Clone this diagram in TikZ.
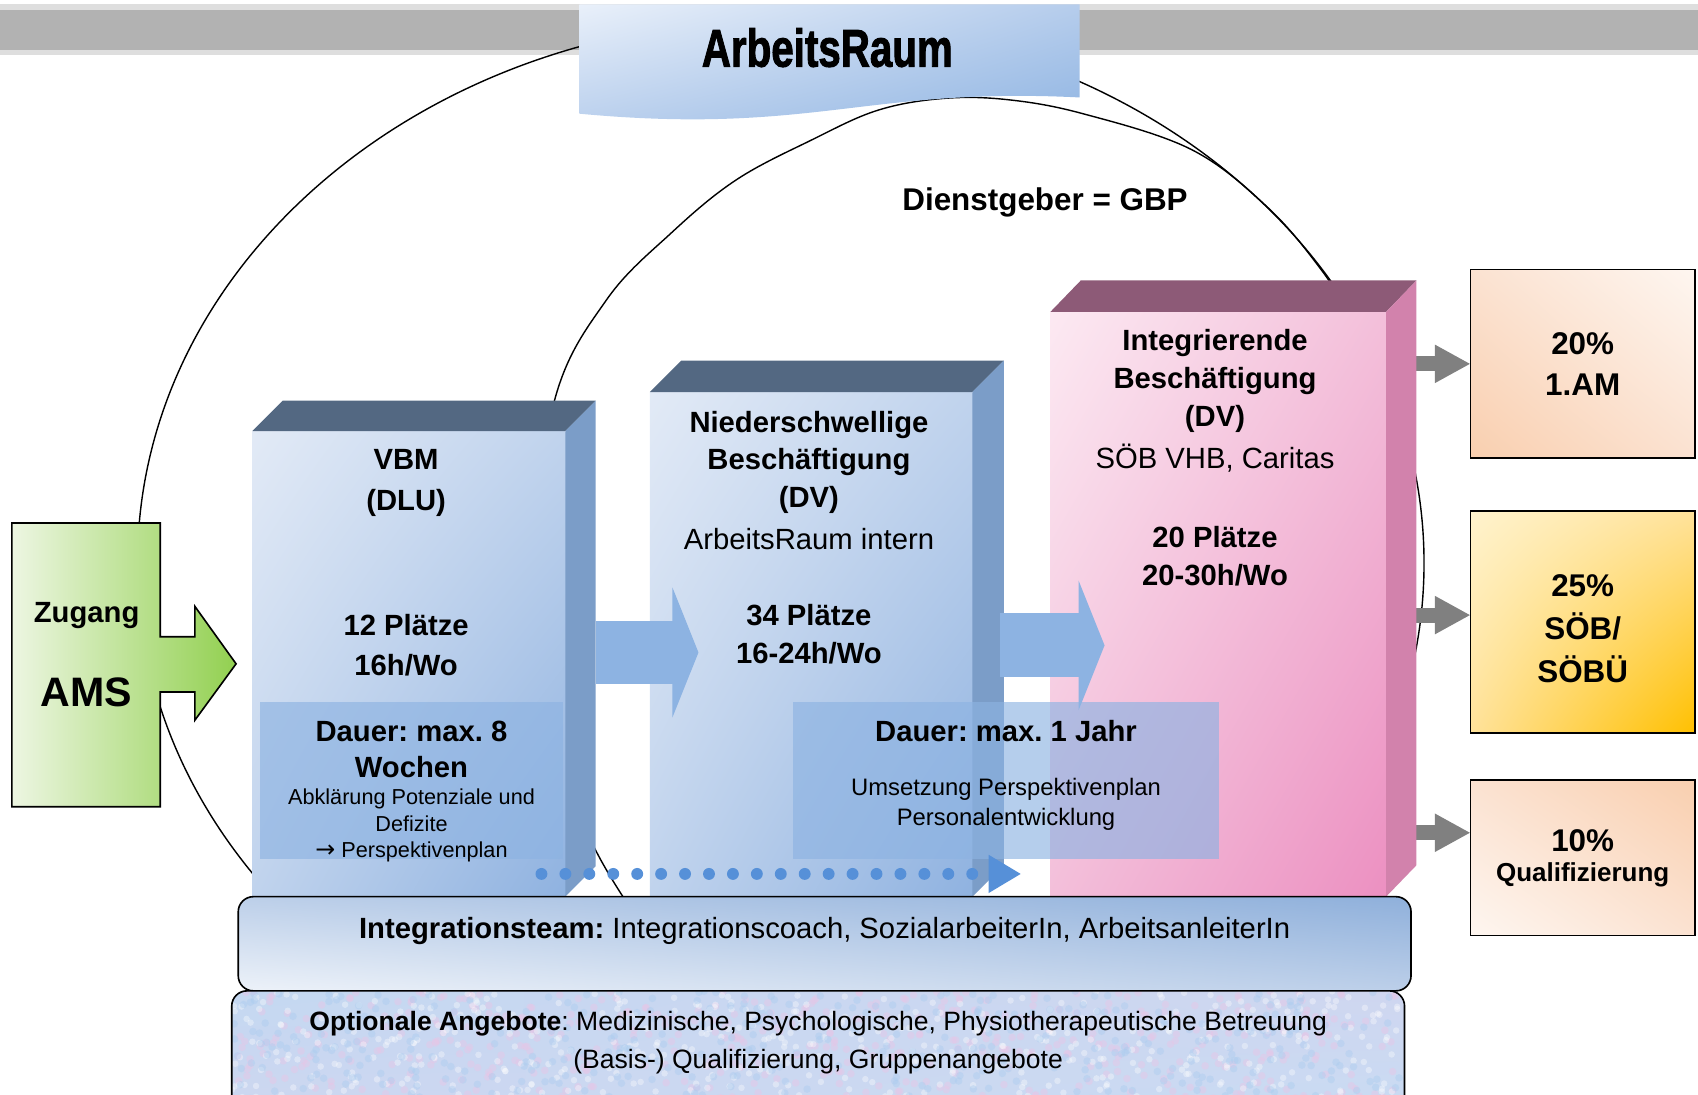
\documentclass[tikz,border=0pt]{standalone}
\usepackage{fontspec}
\setmainfont{Liberation Sans}
\newfontfamily\titlefont{Liberation Sans}[BoldFeatures={FakeBold=2}]
\newfontfamily\symfont{DejaVu Sans}
\usetikzlibrary{arrows.meta,positioning,shadings}

\definecolor{barGray}{HTML}{B2B2B2}
\definecolor{barLight}{HTML}{DEDEDE}
\definecolor{bannerLight}{HTML}{E9F0FA}
\definecolor{bannerMid}{HTML}{B6CDEC}
\definecolor{bannerDark}{HTML}{8DB3E2}
\definecolor{blueLight}{HTML}{E2EAF6}
\definecolor{blueMid}{HTML}{C0D3ED}
\definecolor{blueDark}{HTML}{8FB2E0}
\definecolor{blueTop}{HTML}{536882}
\definecolor{blueSide}{HTML}{7B9DC8}
\definecolor{pinkLight}{HTML}{FCE9F2}
\definecolor{pinkMid}{HTML}{F3BFDA}
\definecolor{pinkDark}{HTML}{EC90C1}
\definecolor{pinkTop}{HTML}{8D5A77}
\definecolor{pinkSide}{HTML}{D282AC}
\definecolor{arrowBlue}{HTML}{8DB3E2}
\definecolor{dotBlue}{HTML}{5690D8}
\definecolor{greenLight}{HTML}{EDF6E2}
\definecolor{greenDark}{HTML}{92D050}
\definecolor{teamLight}{HTML}{EDF2F9}
\definecolor{teamMid}{HTML}{BCCFE9}
\definecolor{teamDark}{HTML}{8FB0DB}
\definecolor{optA}{HTML}{C4D8F1}
\definecolor{optB}{HTML}{CFD6F0}
\definecolor{optC}{HTML}{C8DCF3}
\definecolor{speckPink}{HTML}{E8C6E6}
\definecolor{speckBlue}{HTML}{A9CBEF}
\definecolor{peachLight}{HTML}{FEF6F0}
\definecolor{peachMid}{HTML}{FBE2D1}
\definecolor{peachDark}{HTML}{F9CFAF}
\definecolor{yellowLight}{HTML}{FFF3CD}
\definecolor{yellowMid}{HTML}{FFE29A}
\definecolor{yellowDark}{HTML}{FFC000}
\definecolor{grayArrow}{HTML}{808080}

\begin{document}
\frenchspacing
\begin{tikzpicture}
  [x=1pt, y=-1pt,
  boxface/.style={inner sep=0pt, outer sep=0pt},
  bluefront/.style={boxface, upper left=blueLight, upper right=blueMid,
    lower left=blueMid, lower right=blueDark},
  pinkfront/.style={boxface, upper left=pinkLight, upper right=pinkMid,
    lower left=pinkMid, lower right=pinkDark},
  durbox/.style={boxface, fill=arrowBlue, fill opacity=0.65},
  outbox/.style={boxface, draw=black, line width=1.5pt, minimum width=207},
  outtxt/.style={font=\bfseries\fontsize{29}{#1}\selectfont, align=center, inner sep=0pt},
  outtxt/.default=38,
  bigarrow/.style={draw=arrowBlue, line width=59pt, -{Triangle[length=24pt, width=119pt]}},
  grayarrow/.style={draw=grayArrow, line width=14pt, -{Triangle[length=33pt, width=33pt]}},
  dotarrow/.style={draw=dotBlue, line width=11pt, line cap=round,
    dash pattern=on 0pt off 22.1pt, -{Triangle[length=30pt, width=33pt]}},
  bigcurve/.style={draw=black, line width=1.3pt},
  btxt/.style={font=\bfseries\fontsize{27}{#1}\selectfont, align=center, inner sep=0pt},
  btxt/.default=35,
  rtxt/.style={font=\fontsize{27}{#1}\selectfont, align=center, inner sep=0pt},
  rtxt/.default=35]

  \clip (0,0) rectangle (1568,1011);

  \fill[barLight] (0,4) rectangle (1568,51);
  \fill[barGray] (0,9) rectangle (1568,46);

  \draw[bigcurve] (721,520) ellipse [x radius=594pt, y radius=502pt];
  \draw[bigcurve] plot[smooth, tension=0.6] coordinates {(590,850) (550,785) (505,680)
    (490,540) (512,370) (560,277) (620,215) (680,166) (750,129) (810,102) (870,91)
    (930,92) (1000,105) (1100,138) (1170,191) (1220,249) (1262,313)};

  \shade[upper left=bannerLight, upper right=bannerMid, lower left=bannerMid, lower right=bannerDark]
    (535,4) -- (997,4) -- (997,90) .. controls (800,80) and (750,125) .. (535,105) -- cycle;
  \node[font=\titlefont\bfseries\fontsize{49}{49}\selectfont, inner sep=0pt] (title) at (764,44)
    {\scalebox{0.76}[1]{ArbeitsRaum}};

  \node[font=\bfseries\fontsize{29}{35}\selectfont, inner sep=0pt] (employer) at (965,187) {Dienstgeber = GBP};

  % outcome boxes
  \node[outbox, minimum height=174, upper left=peachMid, upper right=peachLight,
    lower left=peachDark, lower right=peachMid] (am) at (1461.5,336) {};
  \node[outbox, minimum height=205, upper left=yellowLight, upper right=yellowMid,
    lower left=yellowMid, lower right=yellowDark] (soeb) at (1461.5,574.5) {};
  \node[outbox, minimum height=144, upper left=peachMid, upper right=peachDark,
    lower left=peachLight, lower right=peachMid] (quali) at (1461.5,792) {};
  \node[outtxt] (am-text) at (am.center) {20\%\\1.AM};
  \node[outtxt=40] (soeb-text) at ([yshift=-6pt]soeb.center) {25\%\\SÖB/\\SÖBÜ};
  \node[outtxt] (quali-rate) at ([yshift=16pt]quali.center) {10\%};
  \node[font=\bfseries\fontsize{24}{30}\selectfont, inner sep=0pt] (quali-text)
    at ([yshift=-16pt]quali.center) {Qualifizierung};

  \draw[grayarrow] ([xshift=-98pt]am.west) -- (am.west);
  \draw[grayarrow] ([xshift=-98pt, yshift=6.5pt]soeb.west) -- ([yshift=6.5pt]soeb.west);
  \draw[grayarrow] ([xshift=-98pt, yshift=23pt]quali.west) -- ([yshift=23pt]quali.west);

  \node[pinkfront, minimum width=310, minimum height=540] (integ) at (1125,558) {};
  \fill[pinkTop] (integ.north west) -- ++(28,-29) -- ++(310,0) -- (integ.north east) -- cycle;
  \fill[pinkSide] (integ.north east) -- ++(28,-29) -- ++(0,540) -- (integ.south east) -- cycle;

  \node[bluefront, minimum width=289, minimum height=430] (vbm) at (377.5,613) {};
  \fill[blueTop] (vbm.north west) -- ++(28,-28) -- ++(289,0) -- (vbm.north east) -- cycle;
  \fill[blueSide] (vbm.north east) -- ++(28,-28) -- ++(0,430) -- (vbm.south east) -- cycle;

  \node[bluefront, minimum width=298, minimum height=466] (nieder) at (749,595) {};
  \fill[blueTop] (nieder.north west) -- ++(29,-29) -- ++(298,0) -- (nieder.north east) -- cycle;
  \fill[blueSide] (nieder.north east) -- ++(29,-29) -- ++(0,466) -- (nieder.south east) -- cycle;

  \draw[bigarrow] ([xshift=28pt, yshift=10.5pt]vbm.east) -- ++(95,0);
  \draw[bigarrow] ([xshift=25pt, yshift=-1pt]nieder.east) -- ++(97,0);

  \node[durbox, minimum width=280, minimum height=145] (vbm-dauer) at (380,720.5) {};
  \node[durbox, minimum width=394, minimum height=145] (nieder-dauer) at (929,720.5) {};

  \draw[dotarrow] ([xshift=-22pt, yshift=21pt]vbm.south east) -- ([xshift=45pt, yshift=21pt]nieder.south east);

  \node[btxt=37] (vbm-name) at (375,446) {VBM\\(DLU)};
  \node[btxt=37] (vbm-places) at (375,596) {12 Plätze\\16h/Wo};
  \node[btxt=33] (vbm-time) at (380,692) {Dauer: max. 8\\Wochen};
  \node[align=center, inner sep=0pt, font=\fontsize{20}{24.5}\selectfont] (vbm-task) at (380,762.5)
    {Abklärung Potenziale und\\Defizite\\{\symfont\fontsize{22}{24.5}\selectfont →} Perspektivenplan};

  \node[btxt] (nieder-name) at (747,427) {Niederschwellige\\Beschäftigung\\(DV)};
  \node[rtxt] (nieder-org) at (747,498) {ArbeitsRaum intern};
  \node[btxt] (nieder-places) at (747,586) {34 Plätze\\16-24h/Wo};
  \node[btxt] (nieder-time) at (929,675) {Dauer: max. 1 Jahr};
  \node[align=center, inner sep=0pt, font=\fontsize{22}{28}\selectfont] (nieder-task) at (929,742.5)
    {Umsetzung Perspektivenplan\\Personalentwicklung};

  \node[btxt] (integ-name) at (1122,352) {Integrierende\\Beschäftigung\\(DV)};
  \node[rtxt] (integ-org) at (1122,423) {SÖB VHB, Caritas};
  \node[btxt] (integ-places) at (1122,514) {20 Plätze\\20-30h/Wo};

  \draw[line width=1.5pt, left color=greenLight, right color=greenDark]
    (11,483) -- (148,483) -- (148,588) -- (180,588) -- (180,560) -- (218,613) -- (180,665)
    -- (180,639) -- (148,639) -- (148,745) -- (11,745) -- cycle;
  \node[btxt] (zugang) at (80,568) {Zugang};
  \node[font=\bfseries\fontsize{38}{38}\selectfont, inner sep=0pt] (ams) at (80,639) {AMS};

  \node[boxface, draw=black, line width=1.5pt, rounded corners=14pt, minimum width=1083,
    minimum height=87, upper left=teamMid, upper right=teamDark, lower left=teamLight,
    lower right=teamMid] (team) at (761.5,871.5) {};
  \node[rtxt] (team-text) at ([yshift=12pt]team.center)
    {\textbf{Integrationsteam:} Integrationscoach, SozialarbeiterIn, ArbeitsanleiterIn};

  \node[boxface, rounded corners=14pt, minimum width=1083, minimum height=130,
    upper left=optA, upper right=optB, lower left=optB, lower right=optC] (extra) at (755.5,980) {};
  \begin{scope}
    \clip[rounded corners=14pt] (extra.south west) rectangle (extra.north east);
    \pgfmathsetseed{11}
    \foreach \i in {1,...,500}
      \fill[speckPink, opacity=0.45] (214+1083*rnd, 915+100*rnd) circle [radius=3.5pt];
    \foreach \i in {1,...,500}
      \fill[white, opacity=0.35] (214+1083*rnd, 915+100*rnd) circle [radius=3pt];
    \foreach \i in {1,...,400}
      \fill[speckBlue, opacity=0.4] (214+1083*rnd, 915+100*rnd) circle [radius=3.5pt];
  \end{scope}
  \draw[line width=1.5pt, rounded corners=14pt] (extra.south west) rectangle (extra.north east);
  \node[align=center, inner sep=0pt, font=\fontsize{24.5}{35}\selectfont] (extra-text) at (755.5,962.5)
    {\textbf{Optionale Angebote}: Medizinische, Psychologische, Physiotherapeutische Betreuung\\(Basis-) Qualifizierung, Gruppenangebote};

\end{tikzpicture}
\end{document}
